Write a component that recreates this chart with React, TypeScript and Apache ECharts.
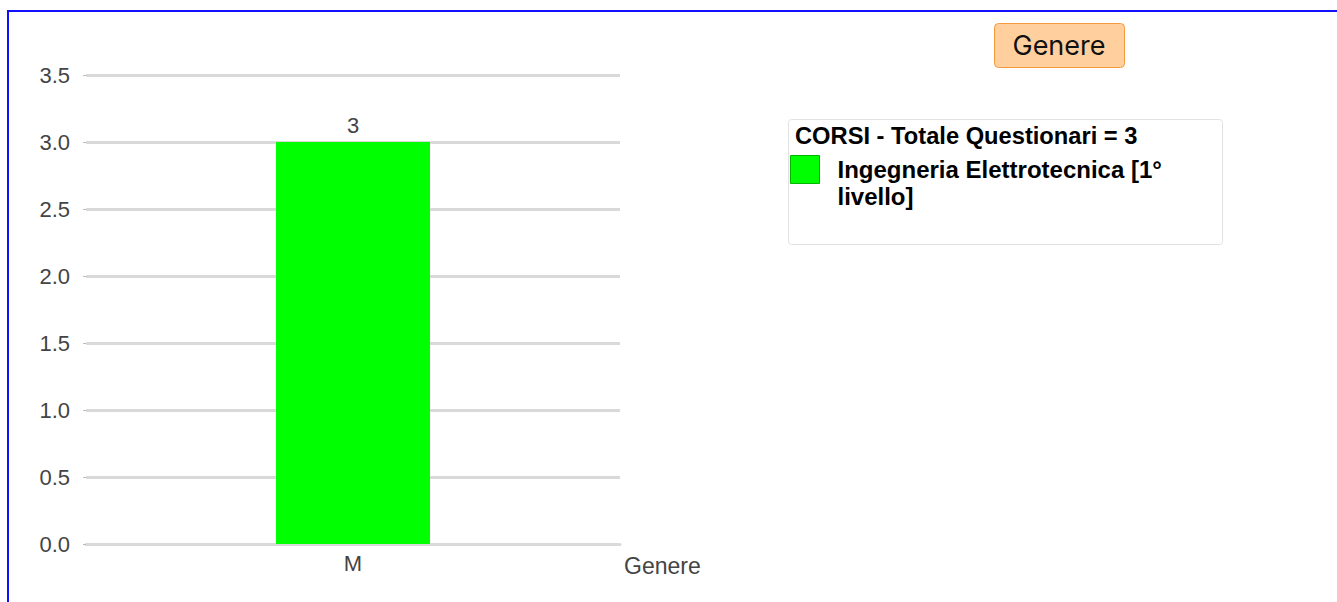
import React, { useEffect, useRef } from "react";
import * as echarts from "echarts";

const categories = ["M"];
const seriesName = "Ingegneria Elettrotecnica [1° livello]";
const values = [3];
const chartTitle = "Genere";
const legendTitle = "CORSI - Totale Questionari = 3";
const xAxisName = "Genere";
const yMin = 0;
const yMax = 3.5;
const yStep = 0.5;

const FONT = "'Liberation Sans', Arial, sans-serif";

export default function App() {
  const ref = useRef<HTMLDivElement>(null);

  useEffect(() => {
    if (!ref.current) return;
    const chart = echarts.init(ref.current, undefined, { renderer: "svg" });
    chart.setOption({
      animation: false,
      textStyle: { fontFamily: FONT },
      grid: { left: 86, right: 717, top: 75, bottom: 58 },
      xAxis: {
        type: "category",
        data: categories,
        name: xAxisName,
        nameLocation: "end",
        nameGap: 4,
        nameTextStyle: {
          fontFamily: FONT,
          fontSize: 23,
          color: "#444",
          verticalAlign: "top",
          lineHeight: 44,
        },
        axisLine: { show: true, lineStyle: { color: "#d9d9d9", width: 3 } },
        axisTick: { show: false },
        axisLabel: { fontFamily: FONT, fontSize: 22, color: "#444", margin: 8 },
      },
      yAxis: {
        type: "value",
        min: yMin,
        max: yMax,
        interval: yStep,
        axisLine: { show: false },
        axisTick: { show: true, length: 3, lineStyle: { color: "#bbb" } },
        axisLabel: {
          fontFamily: FONT,
          fontSize: 22,
          color: "#444",
          margin: 16,
          formatter: (v: number) => v.toFixed(1),
        },
        splitLine: { show: true, lineStyle: { color: "#d9d9d9", width: 3 } },
      },
      legend: {
        data: [seriesName],
        left: 790,
        top: 129,
        orient: "vertical",
        padding: 0,
        itemWidth: 29,
        itemHeight: 28,
        icon: "rect",
        selectedMode: false,
        itemStyle: { borderColor: "#00b400", borderWidth: 1 },
        formatter: (name: string) => "\n" + name,
        textStyle: {
          fontFamily: FONT,
          fontSize: 24,
          fontWeight: "bold",
          color: "#000",
          lineHeight: 27,
          width: 360,
          overflow: "break",
          padding: [0, 0, 0, 13],
        },
      },
      graphic: [
        {
          type: "rect",
          z: -10,
          shape: { x: 994.5, y: 23.5, width: 130, height: 44, r: 4 },
          style: { fill: "#ffd09e", stroke: "#f59a3c", lineWidth: 1 },
        },
        {
          type: "text",
          x: 1059,
          y: 45,
          style: {
            text: chartTitle,
            font: "27px Inter, 'Open Sans', sans-serif",
            fill: "#111",
            textAlign: "center",
            textVerticalAlign: "middle",
          },
        },
        {
          type: "rect",
          z: -10,
          shape: { x: 788.5, y: 119.5, width: 434, height: 125, r: 3 },
          style: { fill: "#fff", stroke: "#e2e2e2", lineWidth: 1 },
        },
        {
          type: "text",
          x: 795,
          y: 136,
          style: {
            text: legendTitle,
            font: "bold 23.7px 'Liberation Sans', Arial, sans-serif",
            fill: "#000",
            textAlign: "left",
            textVerticalAlign: "middle",
          },
        },
      ],
      series: [
        {
          type: "bar",
          name: seriesName,
          data: values,
          barWidth: 154,
          itemStyle: { color: "#00ff00" },
          label: {
            show: true,
            position: "top",
            distance: 6,
            fontFamily: FONT,
            fontSize: 22,
            color: "#444",
          },
        },
      ],
    });
    return () => chart.dispose();
  }, []);

  return (
    <div
      style={{
        position: "fixed",
        left: 0,
        top: 0,
        width: 1337,
        height: 602,
        overflow: "hidden",
        background: "#fff",
      }}
    >
      <div
        style={{
          position: "absolute",
          left: 7,
          top: 10,
          width: 1345,
          height: 620,
          border: "2px solid #1010ff",
          boxSizing: "border-box",
        }}
      />
      <div
        ref={ref}
        style={{ position: "absolute", left: 0, top: 0, width: 1337, height: 602 }}
      />
    </div>
  );
}
